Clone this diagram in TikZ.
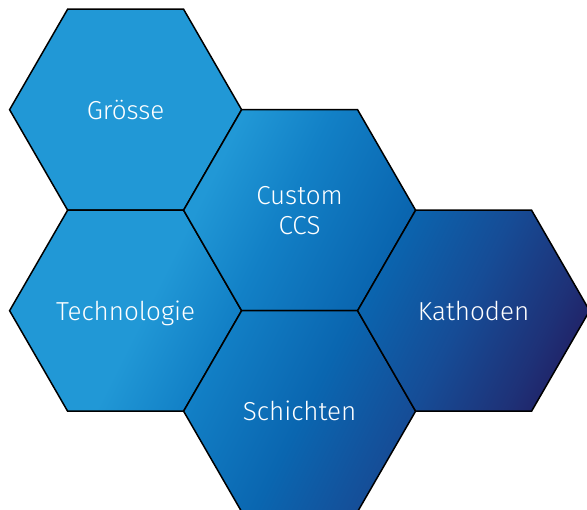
\documentclass[tikz,border=0pt]{standalone}
\usepackage{fontspec}
\setmainfont{Fira Sans}[UprightFont = * Light]
\usepackage{tikz}
\usetikzlibrary{shapes.geometric}

\definecolor{hexA}{RGB}{33,152,214}
\definecolor{hexB}{RGB}{18,128,198}
\definecolor{hexC}{RGB}{10,102,176}
\definecolor{hexD}{RGB}{22,76,150}
\definecolor{hexE}{RGB}{30,50,120}
\definecolor{hexF}{RGB}{32,37,106}
\pgfdeclarehorizontalshading{hexshade}{100bp}{color(0bp)=(hexA); color(38.8bp)=(hexA);
  color(45.5bp)=(hexB); color(54.5bp)=(hexC); color(62.7bp)=(hexD); color(69.4bp)=(hexE);
  color(72bp)=(hexF); color(100bp)=(hexF)}

\begin{document}
\begin{tikzpicture}[x = 1pt, y = -1pt, line width = 1.5pt,
                    hex/.style = {regular polygon, regular polygon sides = 6, minimum size = 232pt,
                                  inner sep = 0pt, outer sep = 0pt},
                    word/.style = {text = white, align = center, font = \fontsize{26}{30}\selectfont}]
  \useasboundingbox (0, 0) rectangle (587, 510);
  \node [hex] (H1) at (125.6, 109.7) {};
  \node [hex] (H2) at (125.6, 310.7) {};
  \node [hex] (H3) at (299.6, 210.2) {};
  \node [hex] (H4) at (299.6, 411.2) {};
  \node [hex] (H5) at (473.6, 310.7) {};
  \foreach \h in {H1, H2, H3, H4, H5} {
    \begin{scope}
      \clip (\h.corner 1) -- (\h.corner 2) -- (\h.corner 3) -- (\h.corner 4)
            -- (\h.corner 5) -- (\h.corner 6) -- cycle;
      \shade [shading = hexshade, shading angle = -26.57] (0, 0) rectangle (600, 600);
    \end{scope}
    \draw (\h.corner 1) -- (\h.corner 2) -- (\h.corner 3) -- (\h.corner 4)
          -- (\h.corner 5) -- (\h.corner 6) -- cycle;
  }
  \node [word] (L1) at (H1) {Grösse};
  \node [word, text depth = 0pt] (L2) at (H2) {Technologie};
  \node [word] (L3) at (H3) {Custom\\CCS};
  \node [word] (L4) at (H4) {Schichten};
  \node [word] (L5) at (H5) {Kathoden};
\end{tikzpicture}
\end{document}
